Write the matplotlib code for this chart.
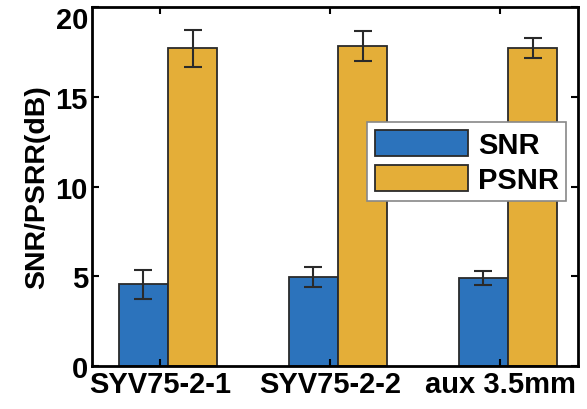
import numpy as np
import matplotlib.pyplot as plt
import matplotlib.transforms as mtransforms

plt.rcParams['font.family'] = ['Liberation Sans', 'DejaVu Sans']
plt.rcParams['font.weight'] = 'bold'

devices = ["SYV75-2-1", "SYV75-2-2", "aux 3.5mm"]
snr = [4.55, 4.95, 4.9]
snr_err = [0.8, 0.55, 0.38]
psnr = [17.7, 17.85, 17.72]
psnr_err = [1.05, 0.84, 0.57]

blue = "#2c73bc"
gold = "#e4ae38"
edge = "#2a2a2a"

fig = plt.figure(figsize=(5.87, 4.10), dpi=100)
ax = fig.add_axes([0.157, 0.105, 0.828, 0.875])

x = np.arange(1, len(devices) + 1)
w = 0.29
shift = 0.047

err_kw = dict(ecolor=edge, elinewidth=1.5, capsize=6.5, capthick=1.5)
ax.bar(x + shift - w / 2, snr, w, yerr=snr_err, color=blue, edgecolor=edge,
       linewidth=1.3, label="SNR", error_kw=err_kw)
ax.bar(x + shift + w / 2, psnr, w, yerr=psnr_err, color=gold, edgecolor=edge,
       linewidth=1.3, label="PSNR", error_kw=err_kw)

ax.set_xlim(0.6, 3.46)
ax.set_ylim(0, 20)
ax.set_xticks(x)
ax.set_xticklabels(devices)
ax.set_yticks([0, 5, 10, 15, 20])
ax.tick_params(direction="in", top=True, right=True, labelsize=21,
               width=1.5, length=5, pad=3)
for s in ax.spines.values():
    s.set_linewidth(2)
ax.set_ylabel("SNR/PSRR(dB)", fontsize=20.5, fontweight="bold", labelpad=4)

# nudge the top label down so it stays inside the figure
fig.canvas.draw()
top_lbl = ax.get_yticklabels()[-1]
top_lbl.set_transform(top_lbl.get_transform() +
                      mtransforms.ScaledTranslation(0, -0.1, fig.dpi_scale_trans))

leg = ax.legend(loc="upper left", bbox_to_anchor=(0.566, 0.679), fontsize=21,
                handlelength=3.2, handleheight=1.0, borderpad=0.25,
                labelspacing=0.2, handletextpad=0.35, borderaxespad=0,
                fancybox=False, framealpha=1, edgecolor="#888888")
leg.get_frame().set_linewidth(1.2)

fig.savefig("out.png", dpi=100)
